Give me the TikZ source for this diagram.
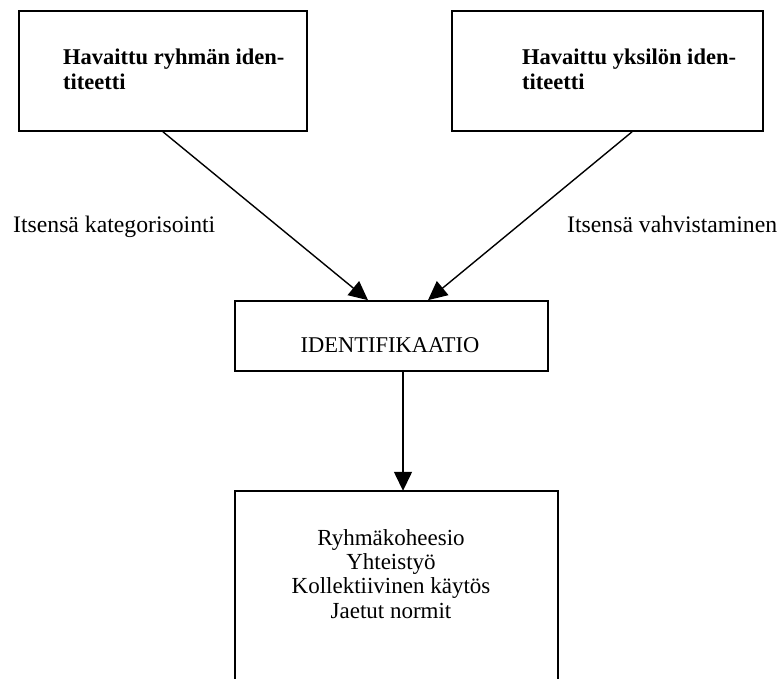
\documentclass[tikz,border=0pt]{standalone}
\usepackage{fontspec}
\setmainfont{Liberation Serif}
\usetikzlibrary{arrows.meta,calc}
\begin{document}
\begin{tikzpicture}[x=1pt,y=-1pt,
  box/.style={draw,line width=1.7pt,rectangle,inner sep=0pt},
  txt/.style={inner sep=0pt,font=\fontsize{22.5}{25}\selectfont},
  btxt/.style={inner sep=0pt,font=\fontsize{22.5}{25}\selectfont\bfseries},
  lab/.style={inner sep=0pt,font=\fontsize{23.7}{25}\selectfont},
  conn/.style={line width=1.4pt,-{Triangle[length=19pt,width=18pt]}}]
\useasboundingbox (0,0) rectangle (778,679);
% boxes
\node[box,minimum width=288pt,minimum height=120pt] (grp) at (163,71) {};
\node[box,minimum width=311pt,minimum height=120pt] (ind) at (607.5,71) {};
\node[box,minimum width=313pt,minimum height=70pt] (idf) at (391.5,336) {};
\node[inner sep=0pt,minimum width=323pt,minimum height=188pt] (res) at (396.5,585) {};
\draw[line width=1.7pt] (res.south west) |- (res.north) -| (res.south east);
% texts
\node[btxt,anchor=base west,align=left] (grpt) at (63,90) {Havaittu ryhmän iden-\\titeetti};
\node[btxt,anchor=base west,align=left] (indt) at (522,90) {Havaittu yksilön iden-\\titeetti};
\node[txt,anchor=base] (idft) at (390,352) {IDENTIFIKAATIO};
\node[txt,anchor=base,align=center,font=\fontsize{23}{24.3}\selectfont] (rest) at (391,618) {Ryhmäkoheesio\\Yhteistyö\\Kollektiivinen käytös\\Jaetut normit};
\node[lab,anchor=base west] (lab1) at (13,232) {Itsensä kategorisointi};
\node[lab,anchor=base west] (lab2) at (567,232) {Itsensä vahvistaminen};
% connectors
\draw[conn] (grp.south) -- ($(idf.north)+(-23.5,0)$);
\draw[conn] ($(ind.south)+(24.5,0)$) -- ($(idf.north)+(36.5,0)$);
\draw[conn] ($(idf.south)+(11.5,0)$) -- ($(res.north)+(6.5,0)$);
\end{tikzpicture}
\end{document}
